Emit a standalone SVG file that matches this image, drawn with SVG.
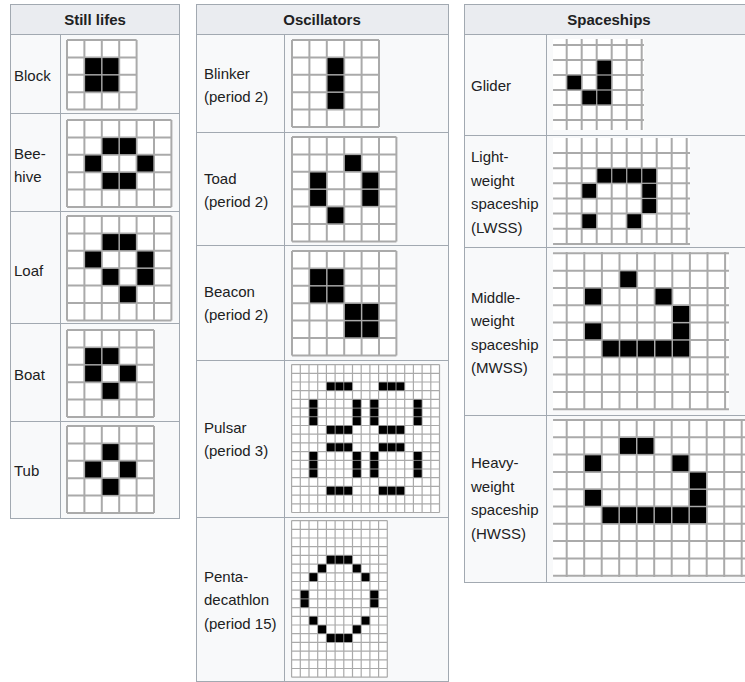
<svg xmlns="http://www.w3.org/2000/svg" xmlns:xlink="http://www.w3.org/1999/xlink" width="745" height="682" viewBox="0 0 745 682">
<style>
.tb{fill:#f8f9fa;stroke:#a2a9b1;stroke-width:1}
.hd{fill:#eaecf0;stroke:#a2a9b1;stroke-width:1}
.bl{fill:none;stroke:#a2a9b1;stroke-width:1}
.ht{font-family:"Liberation Sans",Arial,sans-serif;font-size:15px;font-weight:bold;fill:#202122;text-anchor:middle}
.lb{font-family:"Liberation Sans",Arial,sans-serif;font-size:15px;fill:#202122}
.wb{fill:#fff}
.ln{fill:none;stroke:#aaaaaa;stroke-width:2;vector-effect:non-scaling-stroke}
.ln1{fill:none;stroke:#aaaaaa;stroke-width:1.2;vector-effect:non-scaling-stroke}
</style>
<defs>
<rect id="k" x="0.04" y="0.04" width="0.92" height="0.92" fill="#000"/>
<g id="h3"><use xlink:href="#k"/><use xlink:href="#k" x="1"/><use xlink:href="#k" x="2"/></g>
<g id="v3"><use xlink:href="#k"/><use xlink:href="#k" y="1"/><use xlink:href="#k" y="2"/></g>
</defs>

<!-- Still lifes -->
<g id="still-lifes">
<rect class="tb" x="10.5" y="4.5" width="169" height="514"/>
<rect class="hd" x="10.5" y="4.5" width="169" height="30"/>
<path class="bl" d="M60.5 34.5V518.5M10.5 113.5H179.5M10.5 211.5H179.5M10.5 323.5H179.5M10.5 421.5H179.5"/>
<text class="ht" x="95" y="25">Still lifes</text>
<g id="block">
<text class="lb" x="14" y="81">Block</text>
<g transform="translate(67,40) scale(17.4)">
<rect class="wb" width="4" height="4"/>
<path class="ln" d="M0 0V4M1 0V4M2 0V4M3 0V4M4 0V4M0 0H4M0 1H4M0 2H4M0 3H4M0 4H4"/>
<use xlink:href="#k" x="1" y="1"/><use xlink:href="#k" x="2" y="1"/><use xlink:href="#k" x="1" y="2"/><use xlink:href="#k" x="2" y="2"/>
</g>
</g>
<g id="beehive">
<text class="lb" x="14" y="159">Bee-</text>
<text class="lb" x="14" y="182">hive</text>
<g transform="translate(67,120) scale(17.4)">
<rect class="wb" width="6" height="5"/>
<path class="ln" d="M0 0V5M1 0V5M2 0V5M3 0V5M4 0V5M5 0V5M6 0V5M0 0H6M0 1H6M0 2H6M0 3H6M0 4H6M0 5H6"/>
<use xlink:href="#k" x="2" y="1"/><use xlink:href="#k" x="3" y="1"/><use xlink:href="#k" x="1" y="2"/><use xlink:href="#k" x="4" y="2"/><use xlink:href="#k" x="2" y="3"/><use xlink:href="#k" x="3" y="3"/>
</g>
</g>
<g id="loaf">
<text class="lb" x="14" y="276">Loaf</text>
<g transform="translate(67,216) scale(17.4)">
<rect class="wb" width="6" height="6"/>
<path class="ln" d="M0 0V6M1 0V6M2 0V6M3 0V6M4 0V6M5 0V6M6 0V6M0 0H6M0 1H6M0 2H6M0 3H6M0 4H6M0 5H6M0 6H6"/>
<use xlink:href="#k" x="2" y="1"/><use xlink:href="#k" x="3" y="1"/><use xlink:href="#k" x="1" y="2"/><use xlink:href="#k" x="4" y="2"/><use xlink:href="#k" x="2" y="3"/><use xlink:href="#k" x="4" y="3"/><use xlink:href="#k" x="3" y="4"/>
</g>
</g>
<g id="boat">
<text class="lb" x="14" y="380">Boat</text>
<g transform="translate(67,330) scale(17.4)">
<rect class="wb" width="5" height="5"/>
<path class="ln" d="M0 0V5M1 0V5M2 0V5M3 0V5M4 0V5M5 0V5M0 0H5M0 1H5M0 2H5M0 3H5M0 4H5M0 5H5"/>
<use xlink:href="#k" x="1" y="1"/><use xlink:href="#k" x="2" y="1"/><use xlink:href="#k" x="1" y="2"/><use xlink:href="#k" x="3" y="2"/><use xlink:href="#k" x="2" y="3"/>
</g>
</g>
<g id="tub">
<text class="lb" x="14" y="476">Tub</text>
<g transform="translate(67,426) scale(17.4)">
<rect class="wb" width="5" height="5"/>
<path class="ln" d="M0 0V5M1 0V5M2 0V5M3 0V5M4 0V5M5 0V5M0 0H5M0 1H5M0 2H5M0 3H5M0 4H5M0 5H5"/>
<use xlink:href="#k" x="2" y="1"/><use xlink:href="#k" x="1" y="2"/><use xlink:href="#k" x="3" y="2"/><use xlink:href="#k" x="2" y="3"/>
</g>
</g>
</g>

<!-- Oscillators -->
<g id="oscillators">
<rect class="tb" x="196.5" y="4.5" width="252" height="677"/>
<rect class="hd" x="196.5" y="4.5" width="252" height="30"/>
<path class="bl" d="M284.5 34.5V681.5M196.5 132.5H448.5M196.5 245.5H448.5M196.5 360.5H448.5M196.5 517.5H448.5"/>
<text class="ht" x="322" y="25">Oscillators</text>
<g id="blinker">
<text class="lb" x="204" y="79">Blinker</text>
<text class="lb" x="204" y="102">(period 2)</text>
<g transform="translate(292,40) scale(17.4)">
<rect class="wb" width="5" height="5"/>
<path class="ln" d="M0 0V5M1 0V5M2 0V5M3 0V5M4 0V5M5 0V5M0 0H5M0 1H5M0 2H5M0 3H5M0 4H5M0 5H5"/>
<use xlink:href="#v3" x="2" y="1"/>
</g>
</g>
<g id="toad">
<text class="lb" x="204" y="184">Toad</text>
<text class="lb" x="204" y="207">(period 2)</text>
<g transform="translate(292,137) scale(17.4)">
<rect class="wb" width="6" height="6"/>
<path class="ln" d="M0 0V6M1 0V6M2 0V6M3 0V6M4 0V6M5 0V6M6 0V6M0 0H6M0 1H6M0 2H6M0 3H6M0 4H6M0 5H6M0 6H6"/>
<use xlink:href="#k" x="3" y="1"/><use xlink:href="#k" x="1" y="2"/><use xlink:href="#k" x="4" y="2"/><use xlink:href="#k" x="1" y="3"/><use xlink:href="#k" x="4" y="3"/><use xlink:href="#k" x="2" y="4"/>
</g>
</g>
<g id="beacon">
<text class="lb" x="204" y="297">Beacon</text>
<text class="lb" x="204" y="320">(period 2)</text>
<g transform="translate(292,251) scale(17.4)">
<rect class="wb" width="6" height="6"/>
<path class="ln" d="M0 0V6M1 0V6M2 0V6M3 0V6M4 0V6M5 0V6M6 0V6M0 0H6M0 1H6M0 2H6M0 3H6M0 4H6M0 5H6M0 6H6"/>
<use xlink:href="#k" x="1" y="1"/><use xlink:href="#k" x="2" y="1"/><use xlink:href="#k" x="1" y="2"/><use xlink:href="#k" x="2" y="2"/><use xlink:href="#k" x="3" y="3"/><use xlink:href="#k" x="4" y="3"/><use xlink:href="#k" x="3" y="4"/><use xlink:href="#k" x="4" y="4"/>
</g>
</g>
<g id="pulsar">
<text class="lb" x="204" y="433">Pulsar</text>
<text class="lb" x="204" y="456">(period 3)</text>
<g transform="translate(291.6,364.6) scale(8.7)">
<rect class="wb" width="17" height="17"/>
<path class="ln1" d="M0 0V17M1 0V17M2 0V17M3 0V17M4 0V17M5 0V17M6 0V17M7 0V17M8 0V17M9 0V17M10 0V17M11 0V17M12 0V17M13 0V17M14 0V17M15 0V17M16 0V17M17 0V17M0 0H17M0 1H17M0 2H17M0 3H17M0 4H17M0 5H17M0 6H17M0 7H17M0 8H17M0 9H17M0 10H17M0 11H17M0 12H17M0 13H17M0 14H17M0 15H17M0 16H17M0 17H17"/>
<use xlink:href="#h3" x="4" y="2"/><use xlink:href="#h3" x="10" y="2"/><use xlink:href="#h3" x="4" y="7"/><use xlink:href="#h3" x="10" y="7"/>
<use xlink:href="#h3" x="4" y="9"/><use xlink:href="#h3" x="10" y="9"/><use xlink:href="#h3" x="4" y="14"/><use xlink:href="#h3" x="10" y="14"/>
<use xlink:href="#v3" x="2" y="4"/><use xlink:href="#v3" x="7" y="4"/><use xlink:href="#v3" x="9" y="4"/><use xlink:href="#v3" x="14" y="4"/>
<use xlink:href="#v3" x="2" y="10"/><use xlink:href="#v3" x="7" y="10"/><use xlink:href="#v3" x="9" y="10"/><use xlink:href="#v3" x="14" y="10"/>
</g>
</g>
<g id="pentadecathlon">
<text class="lb" x="204" y="581.5">Penta-</text>
<text class="lb" x="204" y="605">decathlon</text>
<text class="lb" x="204" y="628.5">(period 15)</text>
<g transform="translate(291.6,520.6) scale(8.7)">
<rect class="wb" width="11" height="18"/>
<path class="ln1" d="M0 0V18M1 0V18M2 0V18M3 0V18M4 0V18M5 0V18M6 0V18M7 0V18M8 0V18M9 0V18M10 0V18M11 0V18M0 0H11M0 1H11M0 2H11M0 3H11M0 4H11M0 5H11M0 6H11M0 7H11M0 8H11M0 9H11M0 10H11M0 11H11M0 12H11M0 13H11M0 14H11M0 15H11M0 16H11M0 17H11M0 18H11"/>
<use xlink:href="#h3" x="4" y="4"/><use xlink:href="#k" x="3" y="5"/><use xlink:href="#k" x="7" y="5"/><use xlink:href="#k" x="2" y="6"/><use xlink:href="#k" x="8" y="6"/>
<use xlink:href="#k" x="1" y="8"/><use xlink:href="#k" x="9" y="8"/><use xlink:href="#k" x="1" y="9"/><use xlink:href="#k" x="9" y="9"/>
<use xlink:href="#k" x="2" y="11"/><use xlink:href="#k" x="8" y="11"/><use xlink:href="#k" x="3" y="12"/><use xlink:href="#k" x="7" y="12"/><use xlink:href="#h3" x="4" y="13"/>
</g>
</g>
</g>

<!-- Spaceships -->
<g id="spaceships">
<rect class="tb" x="464.5" y="4.5" width="300" height="578"/>
<rect class="hd" x="464.5" y="4.5" width="300" height="30"/>
<path class="bl" d="M546.5 34.5V582.5M464.5 135.5H764.5M464.5 247.5H764.5M464.5 415.5H764.5"/>
<text class="ht" x="609" y="25">Spaceships</text>
<g id="glider">
<text class="lb" x="471" y="91">Glider</text>
<g transform="translate(566.7,45) scale(15)">
<rect class="wb" x="-0.91" y="-0.4" width="6.06" height="6.07"/>
<path class="ln" d="M0 -0.4V5.67M1 -0.4V5.67M2 -0.4V5.67M3 -0.4V5.67M4 -0.4V5.67M5 -0.4V5.67M-0.91 0H5.15M-0.91 1H5.15M-0.91 2H5.15M-0.91 3H5.15M-0.91 4H5.15M-0.91 5H5.15"/>
<use xlink:href="#k" x="2" y="1"/><use xlink:href="#k" x="0" y="2"/><use xlink:href="#k" x="2" y="2"/><use xlink:href="#k" x="1" y="3"/><use xlink:href="#k" x="2" y="3"/>
</g>
</g>
<g id="lwss">
<text class="lb" x="471" y="162">Light-</text>
<text class="lb" x="471" y="185.5">weight</text>
<text class="lb" x="471" y="209">spaceship</text>
<text class="lb" x="471" y="232.5">(LWSS)</text>
<g transform="translate(566.7,153) scale(15,15.15)">
<rect class="wb" x="-0.91" y="-0.99" width="9.13" height="7.06"/>
<path class="ln" d="M0 -0.99V6.07M1 -0.99V6.07M2 -0.99V6.07M3 -0.99V6.07M4 -0.99V6.07M5 -0.99V6.07M6 -0.99V6.07M7 -0.99V6.07M8 -0.99V6.07M-0.91 0H8.22M-0.91 1H8.22M-0.91 2H8.22M-0.91 3H8.22M-0.91 4H8.22M-0.91 5H8.22M-0.91 6H8.22"/>
<use xlink:href="#k" x="2" y="1"/><use xlink:href="#k" x="3" y="1"/><use xlink:href="#k" x="4" y="1"/><use xlink:href="#k" x="5" y="1"/>
<use xlink:href="#k" x="1" y="2"/><use xlink:href="#k" x="5" y="2"/><use xlink:href="#k" x="5" y="3"/><use xlink:href="#k" x="1" y="4"/><use xlink:href="#k" x="4" y="4"/>
</g>
</g>
<g id="mwss">
<text class="lb" x="471" y="302.5">Middle-</text>
<text class="lb" x="471" y="326">weight</text>
<text class="lb" x="471" y="349.5">spaceship</text>
<text class="lb" x="471" y="373">(MWSS)</text>
<g transform="translate(566.7,253.3) scale(17.6,17.33)">
<rect class="wb" x="-0.78" y="-0.07" width="10" height="9.11"/>
<path class="ln" d="M0 -0.07V9.04M1 -0.07V9.04M2 -0.07V9.04M3 -0.07V9.04M4 -0.07V9.04M5 -0.07V9.04M6 -0.07V9.04M7 -0.07V9.04M8 -0.07V9.04M9 -0.07V9.04M-0.78 0H9.22M-0.78 1H9.22M-0.78 2H9.22M-0.78 3H9.22M-0.78 4H9.22M-0.78 5H9.22M-0.78 6H9.22M-0.78 7H9.22M-0.78 8H9.22M-0.78 9H9.22"/>
<use xlink:href="#k" x="3" y="1"/><use xlink:href="#k" x="1" y="2"/><use xlink:href="#k" x="5" y="2"/><use xlink:href="#k" x="6" y="3"/><use xlink:href="#k" x="1" y="4"/><use xlink:href="#k" x="6" y="4"/>
<use xlink:href="#k" x="2" y="5"/><use xlink:href="#k" x="3" y="5"/><use xlink:href="#k" x="4" y="5"/><use xlink:href="#k" x="5" y="5"/><use xlink:href="#k" x="6" y="5"/>
</g>
</g>
<g id="hwss">
<text class="lb" x="471" y="468">Heavy-</text>
<text class="lb" x="471" y="491.5">weight</text>
<text class="lb" x="471" y="515">spaceship</text>
<text class="lb" x="471" y="538.5">(HWSS)</text>
<g transform="translate(566.7,420) scale(17.5,17.3)">
<rect class="wb" x="-0.78" y="-0.05" width="11.83" height="9.12"/>
<path class="ln" d="M0 -0.05V9.07M1 -0.05V9.07M2 -0.05V9.07M3 -0.05V9.07M4 -0.05V9.07M5 -0.05V9.07M6 -0.05V9.07M7 -0.05V9.07M8 -0.05V9.07M9 -0.05V9.07M10 -0.05V9.07M11 -0.05V9.07M-0.78 0H11.05M-0.78 1H11.05M-0.78 2H11.05M-0.78 3H11.05M-0.78 4H11.05M-0.78 5H11.05M-0.78 6H11.05M-0.78 7H11.05M-0.78 8H11.05M-0.78 9H11.05"/>
<use xlink:href="#k" x="3" y="1"/><use xlink:href="#k" x="4" y="1"/><use xlink:href="#k" x="1" y="2"/><use xlink:href="#k" x="6" y="2"/><use xlink:href="#k" x="7" y="3"/><use xlink:href="#k" x="1" y="4"/><use xlink:href="#k" x="7" y="4"/>
<use xlink:href="#k" x="2" y="5"/><use xlink:href="#k" x="3" y="5"/><use xlink:href="#k" x="4" y="5"/><use xlink:href="#k" x="5" y="5"/><use xlink:href="#k" x="6" y="5"/><use xlink:href="#k" x="7" y="5"/>
</g>
</g>
</g>
</svg>
